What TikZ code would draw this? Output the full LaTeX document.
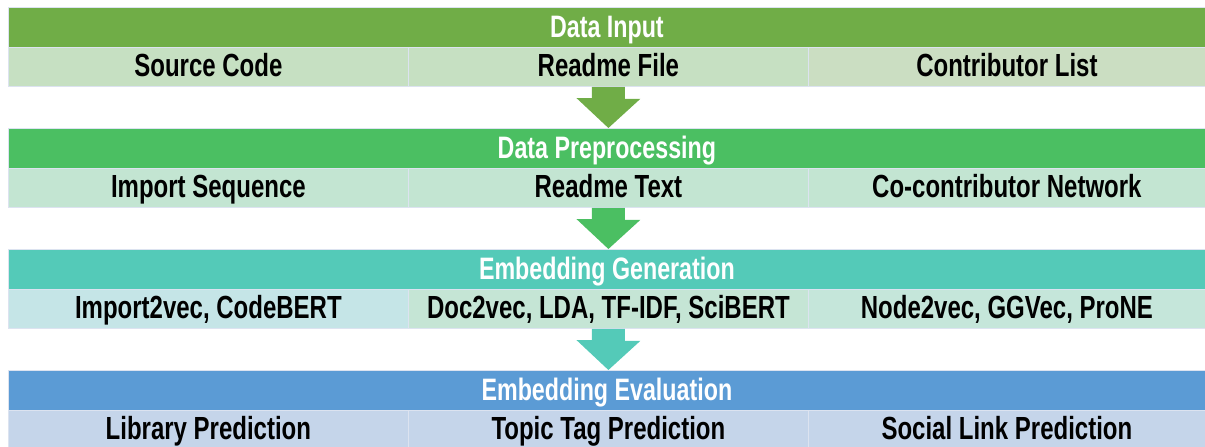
\documentclass[tikz,border=0pt]{standalone}
\usepackage{fontspec}
\newfontfamily\cf{Liberation Sans}[FakeStretch=0.75]
\usetikzlibrary{calc}
\definecolor{hA}{HTML}{70AD47}
\definecolor{hB}{HTML}{4BBF62}
\definecolor{hC}{HTML}{54CAB8}
\definecolor{hD}{HTML}{5B9BD5}
\definecolor{sA}{HTML}{C6E0C2}
\definecolor{sA3}{HTML}{CBDEC2}
\definecolor{sB}{HTML}{C3E5D2}
\definecolor{sC1}{HTML}{C5E5E7}
\definecolor{sC2}{HTML}{C5E5D5}
\definecolor{sC3}{HTML}{C5E6DA}
\definecolor{sD}{HTML}{C5D5EA}
\definecolor{bord}{HTML}{DCE3F0}
\tikzset{
  hdr/.style={draw=bord, line width=0.8pt, anchor=north west, minimum width=1197pt, minimum height=40pt, inner sep=0pt,
    text height=22pt, text depth=2pt,
    text=white, font=\cf\bfseries\fontsize{31}{33}\selectfont},
  cell/.style={draw=bord, line width=0.8pt, anchor=north west, minimum width=400pt, minimum height=39pt, inner sep=0pt,
    text height=22pt, text depth=3pt,
    text=black, font=\cf\bfseries\fontsize{32}{34}\selectfont},
  cellr/.style={cell, minimum width=397pt}
}
\begin{document}
\begin{tikzpicture}[x=1pt,y=-1pt]
\useasboundingbox (0,0) rectangle (1205,447);
% Row 1
\node[hdr, fill=hA] (h1) at (8,7) {Data Input};
\node[cell, fill=sA] (s11) at (8,47) {Source Code};
\node[cell, fill=sA] (s12) at (408,47) {Readme File};
\node[cellr, fill=sA3] (s13) at (808,47) {Contributor List};
% Row 2
\node[hdr, fill=hB] (h2) at (8,128) {Data Preprocessing};
\node[cell, fill=sB] (s21) at (8,168) {Import Sequence};
\node[cell, fill=sB] (s22) at (408,168) {Readme Text};
\node[cellr, fill=sB] (s23) at (808,168) {Co-contributor Network};
% Row 3
\node[hdr, fill=hC] (h3) at (8,249) {Embedding Generation};
\node[cell, fill=sC1] (s31) at (8,289) {Import2vec, CodeBERT};
\node[cell, fill=sC2] (s32) at (408,289) {Doc2vec, LDA, TF-IDF, SciBERT};
\node[cellr, fill=sC3] (s33) at (808,289) {Node2vec, GGVec, ProNE};
% Row 4
\node[hdr, fill=hD] (h4) at (8,370) {Embedding Evaluation};
\node[cell, fill=sD] (s41) at (8,410) {Library Prediction};
\node[cell, fill=sD] (s42) at (408,410) {Topic Tag Prediction};
\node[cellr, fill=sD] (s43) at (808,410) {Social Link Prediction};
% Block arrows
\fill[hA] ($(s12.south)+(-16.5,0)$) -- ++(33,0) -- ++(0,12) -- ++(15.5,0) -- (h2.north -| s12.south) -- ++(-32,-30) -- ++(15.5,0) -- cycle;
\fill[hB] ($(s22.south)+(-16.5,0)$) -- ++(33,0) -- ++(0,12) -- ++(15.5,0) -- (h3.north -| s22.south) -- ++(-32,-30) -- ++(15.5,0) -- cycle;
\fill[hC] ($(s32.south)+(-16.5,0)$) -- ++(33,0) -- ++(0,12) -- ++(15.5,0) -- (h4.north -| s32.south) -- ++(-32,-30) -- ++(15.5,0) -- cycle;
\end{tikzpicture}
\end{document}
